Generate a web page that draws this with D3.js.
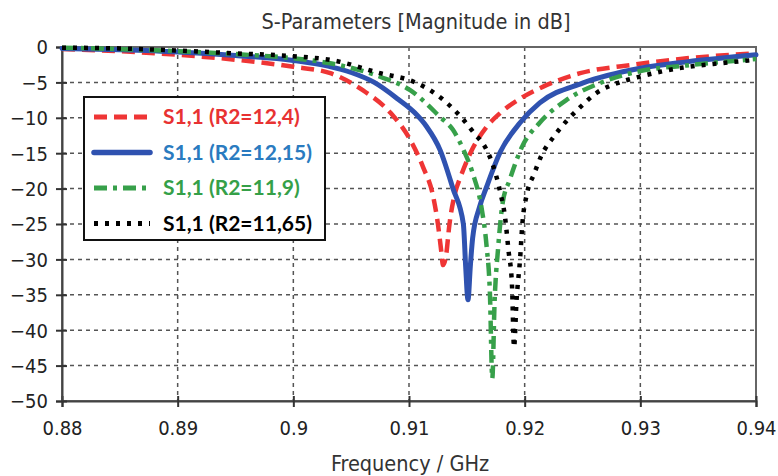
<!DOCTYPE html>
<html>
<head>
<meta charset="utf-8">
<script src="https://cdn.jsdelivr.net/npm/d3@7"></script>
<style>
  body { margin: 0; background: #fff; }
  svg { display: block; }
</style>
</head>
<body>
<div class="chart"></div>
<script>
// values (frequency in GHz, magnitude in dB)
var xTicks = [0.88, 0.89, 0.9, 0.91, 0.92, 0.93, 0.94];
var yTicks = [0, -5, -10, -15, -20, -25, -30, -35, -40, -45, -50];

var redFreq = [0.88, 0.885, 0.89, 0.895, 0.9, 0.9032, 0.906, 0.9084, 0.9101, 0.9112, 0.9121, 0.9125, 0.9128, 0.91294, 0.9132, 0.9135, 0.914, 0.9144, 0.9153, 0.9167, 0.9179, 0.9196, 0.9216, 0.9248, 0.9294, 0.934, 0.94];
var redDb = [-0.3, -0.6, -1.1, -1.8, -2.8, -3.7, -6.1, -9.3, -13.1, -16.9, -21.2, -25, -29, -30.8, -29.5, -25, -20.5, -18.6, -15, -11.3, -9.3, -7.3, -5.6, -3.7, -2.5, -1.6, -0.9];

var blueFreq = [0.88, 0.885, 0.89, 0.895, 0.9, 0.903, 0.905, 0.907, 0.909, 0.9105, 0.9115, 0.9127, 0.9138, 0.9147, 0.9149, 0.9151, 0.9153, 0.9155, 0.9161, 0.9167, 0.9179, 0.9196, 0.9213, 0.925, 0.93, 0.934, 0.94];
var blueDb = [-0.2, -0.4, -0.7, -1.2, -1.9, -2.7, -3.6, -5.0, -7.3, -9.3, -11.2, -14.6, -20, -25, -31, -35.7, -31, -27, -22.6, -19.8, -14.8, -10.7, -7.9, -5.1, -3.0, -2.1, -1.1];

var greenFreq = [0.88, 0.885, 0.89, 0.895, 0.9, 0.9032, 0.9075, 0.9101, 0.9127, 0.9138, 0.9147, 0.9155, 0.9163, 0.9167, 0.917, 0.9172, 0.9174, 0.9177, 0.9181, 0.9187, 0.9198, 0.9213, 0.9236, 0.9265, 0.93, 0.934, 0.94];
var greenDb = [-0.1, -0.3, -0.6, -1.0, -1.6, -2.3, -4.2, -6.1, -9.9, -11.7, -14.5, -17.8, -23, -28, -35, -46.8, -36, -28.5, -22, -18.8, -14, -10.7, -7.5, -5.1, -3.4, -2.6, -1.7];

var blackFreq = [0.88, 0.885, 0.89, 0.895, 0.9, 0.9035, 0.9075, 0.9104, 0.9121, 0.9138, 0.9145, 0.9156, 0.9167, 0.9173, 0.9179, 0.9183, 0.9186, 0.9189, 0.91908, 0.9193, 0.9196, 0.9198, 0.9202, 0.9208, 0.9214, 0.9225, 0.9237, 0.9248, 0.9262, 0.928, 0.9297, 0.9337, 0.9363, 0.94];
var blackDb = [-0.1, -0.2, -0.5, -0.9, -1.3, -1.9, -3.7, -4.9, -6.4, -8.7, -9.9, -12.1, -14.5, -16.9, -20.6, -24, -28.7, -33.5, -42.4, -35.7, -30, -25, -20.7, -18, -15.5, -12.7, -10.3, -8.5, -6.5, -5.1, -4.3, -2.9, -2.4, -1.8];

var seriesNames = ["S1,1 (R2=12,4)", "S1,1 (R2=12,15)", "S1,1 (R2=11,9)", "S1,1 (R2=11,65)"];

var series = [
    { name: seriesNames[0], freq: redFreq, db: redDb, color: "#ef3535", text: "#e83232", dash: "13,7", width: 4.5, cap: "butt" },
    { name: seriesNames[1], freq: blueFreq, db: blueDb, color: "#2f52b0", text: "#2a7bc0", dash: null, width: 5, cap: "round" },
    { name: seriesNames[2], freq: greenFreq, db: greenDb, color: "#37a04a", text: "#35a048", dash: "13,6,4,6", width: 4.5, cap: "butt" },
    { name: seriesNames[3], freq: blackFreq, db: blackDb, color: "#000", text: "#000", dash: "4,7", width: 4.5, cap: "butt" }
];

var width = 778, height = 476;
var margin = { left: 62, top: 47, right: 22, bottom: 75 };

var x = d3.scaleLinear().domain([0.88, 0.94]).range([margin.left, width - margin.right]);
var y = d3.scaleLinear().domain([-50, 0]).range([height - margin.bottom, margin.top]);

var svg = d3.select(".chart").append("svg")
    .attr("width", width)
    .attr("height", height);

var font = "'DejaVu Sans Condensed', 'DejaVu Sans', sans-serif";

//title
svg.append("text")
    .attr("x", 416)
    .attr("y", 29)
    .attr("text-anchor", "middle")
    .attr("font-family", font)
    .attr("font-size", 21.5)
    .attr("fill", "#333")
    .text("S-Parameters [Magnitude in dB]");

//grid
var grid = svg.append("g")
    .attr("stroke", "#555")
    .attr("stroke-width", 1.5)
    .attr("stroke-dasharray", "4,4");

grid.selectAll(".gx")
    .data(xTicks.slice(1, -1))
    .join("line")
    .attr("x1", d => x(d)).attr("x2", d => x(d))
    .attr("y1", y(0)).attr("y2", y(-50));

grid.selectAll(".gy")
    .data(yTicks.slice(1, -1))
    .join("line")
    .attr("x1", x(0.88)).attr("x2", x(0.94))
    .attr("y1", d => y(d)).attr("y2", d => y(d));

//frame
svg.append("rect")
    .attr("x", x(0.88)).attr("y", y(0))
    .attr("width", x(0.94) - x(0.88))
    .attr("height", y(-50) - y(0))
    .attr("fill", "none")
    .attr("stroke", "#666")
    .attr("stroke-width", 2);

//axes
var xAxis = svg.append("g")
    .attr("transform", `translate(0,${y(-50)})`)
    .call(d3.axisBottom(x).tickValues(xTicks).tickSize(6).tickPadding(14).tickFormat(d => d3.format("")(+d.toFixed(2))));

var yAxis = svg.append("g")
    .attr("transform", `translate(${x(0.88)},0)`)
    .call(d3.axisLeft(y).tickValues(yTicks).tickSize(6).tickPadding(8));

[xAxis, yAxis].forEach(function (a) {
    a.select(".domain").attr("stroke", "#444").attr("stroke-width", 2);
    a.selectAll(".tick line").attr("stroke", "#333").attr("stroke-width", 2);
    a.selectAll(".tick text")
        .attr("font-family", font)
        .attr("font-size", 20)
        .attr("fill", "#222");
});
// ticks cross the axis line
xAxis.selectAll(".tick line").attr("y1", -5).attr("y2", 6);
yAxis.selectAll(".tick line").attr("x1", 5).attr("x2", -6);
yAxis.selectAll(".tick text").attr("dy", "0.34em");

svg.append("text")
    .attr("x", 410)
    .attr("y", 471)
    .attr("text-anchor", "middle")
    .attr("font-family", font)
    .attr("font-size", 21.5)
    .attr("fill", "#333")
    .text("Frequency / GHz");

//curves
var line = d3.line()
    .x(d => x(d[0]))
    .y(d => y(d[1]))
    .curve(d3.curveMonotoneX);

svg.append("g")
    .attr("fill", "none")
    .selectAll("path")
    .data(series)
    .join("path")
    .attr("d", d => line(d.freq.map((f, i) => [f, d.db[i]])))
    .attr("stroke", d => d.color)
    .attr("stroke-width", d => d.width)
    .attr("stroke-linecap", d => d.cap)
    .attr("stroke-dasharray", d => d.dash);

//legend
var legend = svg.append("g").attr("transform", "translate(84,97)");

legend.append("rect")
    .attr("width", 241)
    .attr("height", 143)
    .attr("fill", "#fff")
    .attr("stroke", "#111")
    .attr("stroke-width", 2);

var rows = legend.selectAll(".row")
    .data(series)
    .join("g")
    .attr("transform", (d, i) => `translate(0,${20 + i * 35.5})`);

rows.append("line")
    .attr("x1", 10).attr("x2", 66)
    .attr("stroke", d => d.color)
    .attr("stroke-width", d => d.width + 0.5)
    .attr("stroke-linecap", d => d.cap)
    .attr("stroke-dasharray", d => d.dash);

rows.append("text")
    .attr("x", 79)
    .attr("dy", "0.35em")
    .attr("font-family", "Lato, 'Open Sans', sans-serif")
    .attr("font-weight", "bold")
    .attr("font-size", 21)
    .attr("fill", d => d.text)
    .text(d => d.name);
</script>
</body>
</html>
